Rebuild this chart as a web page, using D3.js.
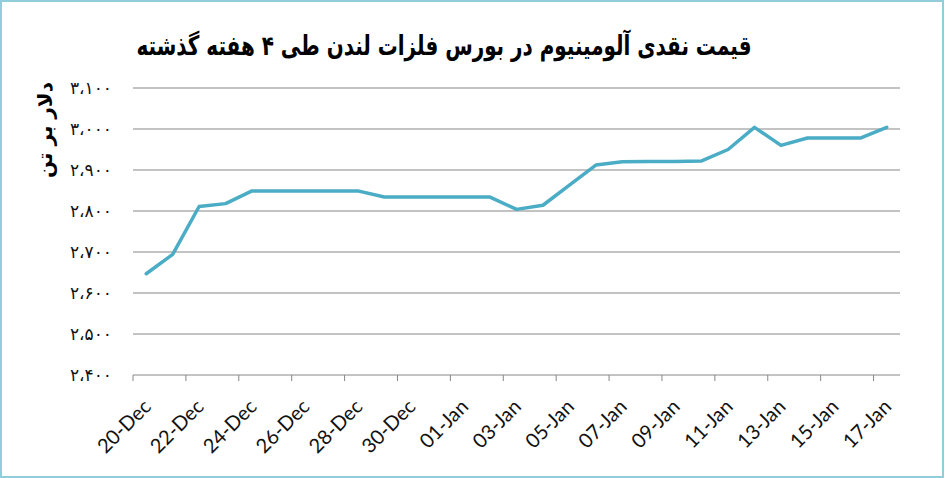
<!DOCTYPE html>
<html><head><meta charset="utf-8">
<script src="https://cdn.jsdelivr.net/npm/d3@7"></script>
<style>
html,body{margin:0;padding:0;background:#fff;}
svg{display:block;}
</style></head>
<body>
<svg id="c" width="945" height="478"></svg>
<script>
const title = "قیمت نقدی آلومینیوم در بورس فلزات لندن طی ۴ هفته گذشته";
const yTitle = "دلار بر تن";
const dates = ["20-Dec","21-Dec","22-Dec","23-Dec","24-Dec","25-Dec","26-Dec","27-Dec","28-Dec","29-Dec","30-Dec","31-Dec",
  "01-Jan","02-Jan","03-Jan","04-Jan","05-Jan","06-Jan","07-Jan","08-Jan","09-Jan","10-Jan","11-Jan","12-Jan","13-Jan","14-Jan","15-Jan","16-Jan","17-Jan"];
const prices = [2647,2694,2811,2818,2849,2849,2849,2849,2849,2834,2834,2834,2834,2834,2804,2814,2863,2912,2920,2921,2921,2922,2950,3004,2960,2978,2978,2978,3004];
const yTicks = [2400,2500,2600,2700,2800,2900,3000,3100];
const yTickLabels = ["۲،۴۰۰","۲،۵۰۰","۲،۶۰۰","۲،۷۰۰","۲،۸۰۰","۲،۹۰۰","۳،۰۰۰","۳،۱۰۰"];

const svg = d3.select("#c");
const L = 133, R = 900, T = 88, B = 375;

svg.append("rect").attr("x",1).attr("y",1).attr("width",942).attr("height",476)
  .attr("fill","#fff").attr("stroke","#92cddc").attr("stroke-width",2);

const x = d3.scaleBand().domain(dates).range([L,R]).paddingInner(0).paddingOuter(0);
const y = d3.scaleLinear().domain([2400,3100]).range([B,T]);

svg.append("g").selectAll("line").data(yTicks.slice(1)).join("line")
  .attr("x1",L).attr("x2",R).attr("y1",d=>y(d)).attr("y2",d=>y(d))
  .attr("stroke","#878787").attr("stroke-width",1);

svg.append("g").selectAll("text").data(yTicks).join("text")
  .attr("x",112).attr("y",d=>y(d)).attr("dy","0.35em")
  .attr("text-anchor","end").attr("direction","ltr")
  .attr("font-family","DejaVu Sans").attr("font-size",17).attr("fill","#111")
  .text((d,i)=>yTickLabels[i]);

const xAxisG = svg.append("g");
xAxisG.append("line").attr("x1",L).attr("x2",R).attr("y1",B).attr("y2",B)
  .attr("stroke","#878787").attr("stroke-width",1);
const tickIdx = dates.map((d,i)=>i).filter(i=>i%2===0);
xAxisG.selectAll("line.tick").data(tickIdx).join("line").attr("class","tick")
  .attr("x1",i=>x(dates[i])).attr("x2",i=>x(dates[i])).attr("y1",B).attr("y2",B+6)
  .attr("stroke","#878787").attr("stroke-width",1);
xAxisG.selectAll("text").data(tickIdx).join("text")
  .attr("transform",i=>`translate(${x(dates[i])+x.bandwidth()/2+1},${B+28}) rotate(-45)`)
  .attr("text-anchor","end").attr("dy","0.35em")
  .attr("font-family","Lato").attr("font-size",20).attr("fill","#111")
  .text(i=>dates[i]);

const line = d3.line().x((d,i)=>x(dates[i])+x.bandwidth()/2).y(d=>y(d));
svg.append("path").datum(prices).attr("d",line)
  .attr("fill","none").attr("stroke","#4bacc6").attr("stroke-width",3.5)
  .attr("stroke-linejoin","round").attr("stroke-linecap","round");

svg.append("text").attr("x",444).attr("y",55).attr("text-anchor","middle")
  .attr("direction","rtl")
  .attr("font-family","DejaVu Sans").attr("font-weight","bold").attr("font-size",27).attr("fill","#000")
  .attr("textLength",615).attr("lengthAdjust","spacingAndGlyphs")
  .text(title);
svg.append("text").attr("transform","translate(52,130) rotate(-90)").attr("text-anchor","middle")
  .attr("direction","rtl")
  .attr("font-family","DejaVu Sans").attr("font-weight","bold").attr("font-size",20).attr("fill","#000")
  .text(yTitle);
</script>
</body></html>
